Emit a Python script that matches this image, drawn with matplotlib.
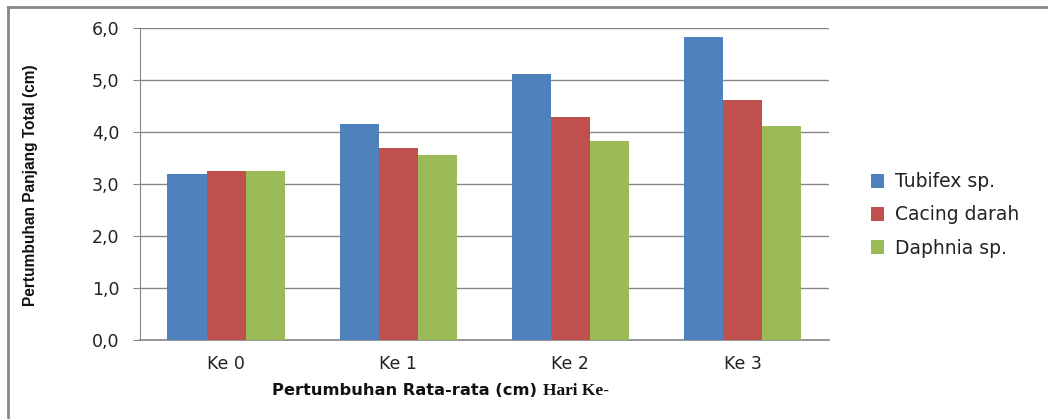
import numpy as np
import matplotlib.pyplot as plt
from matplotlib.lines import Line2D

# data
categories = ['Ke 0', 'Ke 1', 'Ke 2', 'Ke 3']
tubifex = [3.19, 4.16, 5.12, 5.82]
cacing = [3.25, 3.70, 4.29, 4.62]
daphnia = [3.26, 3.55, 3.83, 4.11]
series_names = ['Tubifex sp.', 'Cacing darah', 'Daphnia sp.']
yticks = [0, 1, 2, 3, 4, 5, 6]

colors = ['#4F81BD', '#C0504D', '#9BBB59']

fig = plt.figure(figsize=(10.48, 4.19), dpi=100)
ax = fig.add_axes([0.1336, 0.1885, 0.657, 0.7445])

x = np.arange(len(categories))
w = 0.227
for i, (vals, name) in enumerate(zip([tubifex, cacing, daphnia], series_names)):
    ax.bar(x + (i - 1) * w, vals, width=w, color=colors[i], label=name, zorder=3)

ax.set_xlim(-0.5, 3.5)
ax.set_ylim(0, 6)
ax.set_yticks(yticks)
ax.set_yticklabels([f'{v:.1f}'.replace('.', ',') for v in yticks], fontsize=12.5, color='#222222')
ax.set_xticks(x)
ax.set_xticklabels(categories, fontsize=12.5, color='#222222')
ax.tick_params(axis='x', length=0, pad=11)
ax.tick_params(axis='y', length=5, color='#868686', pad=10)
ax.yaxis.grid(True, color='#868686', linewidth=1, zorder=0)

for s in ['top', 'right']:
    ax.spines[s].set_visible(False)
ax.spines['left'].set_color('#868686')
ax.spines['bottom'].set_color('#868686')
ax.spines['bottom'].set_linewidth(1.2)

# y axis title, narrower bold font
fig.text(0.029, 0.558, 'Pertumbuhan Panjang Total (cm)', fontsize=11.2, fontweight='bold',
         family='Liberation Sans', rotation=90, ha='center', va='center', color='#111111')

# x axis title: sans part and serif part
fig.text(0.260, 0.068, 'Pertumbuhan Rata-rata (cm)', fontsize=11.7, fontweight='bold',
         ha='left', va='center', color='#111111')
fig.text(0.518, 0.068, 'Hari Ke-', fontsize=12.5, fontweight='bold', family='Liberation Serif',
         ha='left', va='center', color='#111111')

leg = ax.legend(loc='center left', bbox_to_anchor=(0.831, 0.487), bbox_transform=fig.transFigure,
                frameon=False, fontsize=13.5, handlelength=0.72, handleheight=0.72,
                labelspacing=0.75, handletextpad=0.55, borderpad=0, borderaxespad=0)
for t in leg.get_texts():
    t.set_color('#222222')

# outer chart border (only left and top edges visible)
fig.add_artist(Line2D([0.008, 0.008], [0.0, 0.983], transform=fig.transFigure,
                      color='#888888', linewidth=2))
fig.add_artist(Line2D([0.008, 1.0], [0.983, 0.983], transform=fig.transFigure,
                      color='#888888', linewidth=2))

fig.savefig('out.png', dpi=100)
